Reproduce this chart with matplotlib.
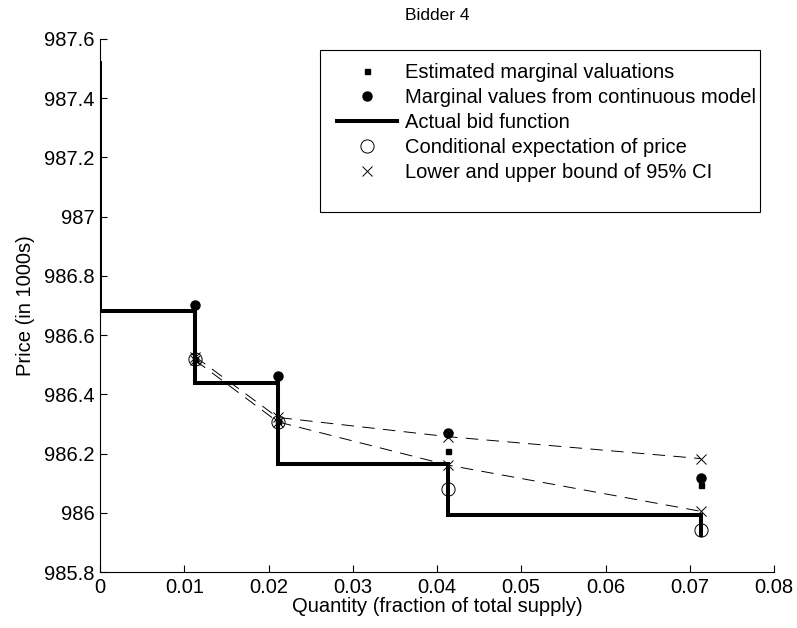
import numpy as np
import matplotlib
matplotlib.use("Agg")
from matplotlib import pyplot as plt
from matplotlib.patches import Rectangle

plt.rcParams['font.family'] = ['Liberation Sans', 'DejaVu Sans']
plt.rcParams['lines.scale_dashes'] = False

# step positions of the bid function and points
quantity = [0.0113, 0.0211, 0.0413, 0.0713]

# actual bid function (step)
bid_q = [0.0, 0.0, 0.0113, 0.0113, 0.0211, 0.0211, 0.0413, 0.0413, 0.0713, 0.0713]
bid_p = [987.52, 986.68, 986.68, 986.437, 986.437, 986.165, 986.165, 985.993, 985.993, 985.925]

est_valuations = [986.52, 986.31, 986.209, 986.094]
continuous_values = [986.703, 986.463, 986.269, 986.118]
cond_expectation = [986.519, 986.305, 986.08, 985.943]
ci_upper = [986.527, 986.322, 986.257, 986.183]
ci_lower = [986.515, 986.307, 986.161, 986.005]

fig = plt.figure(figsize=(7.97, 6.28), dpi=100)
ax = fig.add_axes([100 / 797, 1 - 572 / 628, 674 / 797, 533 / 628])

ax.plot(quantity, ci_upper, color='black', lw=0.7, dashes=(9, 6))
ax.plot(quantity, ci_lower, color='black', lw=0.7, dashes=(9, 6))
ax.plot(bid_q, bid_p, color='black', lw=2.9, solid_joinstyle='miter',
        label='Actual bid function')
ax.plot(quantity, est_valuations, ls='none', marker='s', ms=3.6, color='black',
        label='Estimated marginal valuations')
ax.plot(quantity, continuous_values, ls='none', marker='o', ms=6.5, color='black',
        label='Marginal values from continuous model')
ax.plot(quantity, cond_expectation, ls='none', marker='o', ms=9.5, mfc='none',
        mec='black', mew=0.7, label='Conditional expectation of price')
ax.plot(quantity, ci_upper, ls='none', marker='x', ms=6.5, mew=0.7, color='black',
        label='Lower and upper bound of 95% CI')
ax.plot(quantity, ci_lower, ls='none', marker='x', ms=6.5, mew=0.7, color='black')

ax.set_xlim(0, 0.08)
ax.set_ylim(985.8, 987.6)
ax.set_xticks(np.arange(0, 0.081, 0.01))
ax.set_xticklabels(['0', '0.01', '0.02', '0.03', '0.04', '0.05', '0.06', '0.07', '0.08'])
ax.set_yticks(np.arange(985.8, 987.61, 0.2))
ax.set_yticklabels(['985.8', '986', '986.2', '986.4', '986.6', '986.8', '987',
                    '987.2', '987.4', '987.6'])
ax.tick_params(direction='in', length=5, width=0.8, labelsize=14.5, pad=4)
ax.spines['top'].set_visible(False)
ax.spines['right'].set_visible(False)

ax.set_xlabel('Quantity (fraction of total supply)', fontsize=14.5, labelpad=0)
ax.set_ylabel('Price (in 1000s)', fontsize=14.5, labelpad=6)
ax.set_title('Bidder 4', fontsize=12.5, pad=14)

handles, labels = ax.get_legend_handles_labels()
order = [1, 2, 0, 3, 4]
leg = ax.legend([handles[i] for i in order], [labels[i] for i in order],
                loc='upper left', bbox_to_anchor=(326 / 797, 1 - 52 / 628),
                bbox_transform=fig.transFigure, frameon=False, fontsize=14.5,
                handlelength=3.0, handletextpad=0.35, labelspacing=0.3,
                borderpad=0.55, borderaxespad=0)
fig.patches.append(Rectangle((320 / 797, 1 - 212 / 628), 440 / 797, 162 / 628,
                             transform=fig.transFigure, fill=False,
                             edgecolor='black', lw=0.8))

fig.savefig('out.png', dpi=100)
